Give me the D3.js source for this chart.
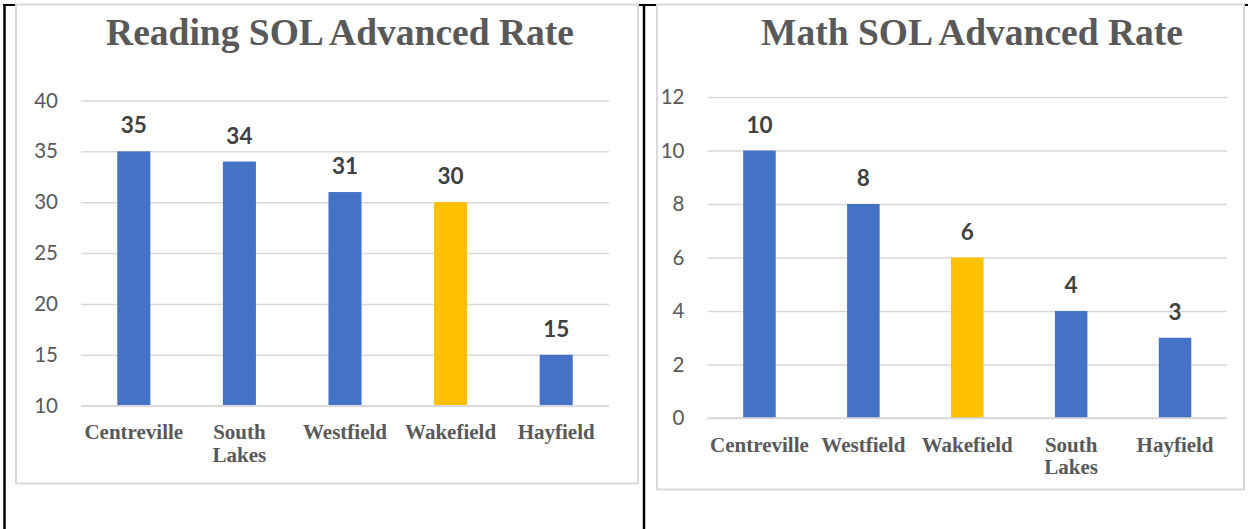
<!DOCTYPE html>
<html>
<head>
<meta charset="utf-8">
<script src="https://cdn.jsdelivr.net/npm/d3@7/dist/d3.min.js"></script>
<style>
  html, body { margin: 0; padding: 0; background: #ffffff; }
  svg { display: block; }
</style>
</head>
<body>
<svg id="chart" width="1248" height="529"></svg>
<script>
// ---- Data ----
const readingTitle = "Reading SOL Advanced Rate";
const readingSchools = ["Centreville", "South Lakes", "Westfield", "Wakefield", "Hayfield"];
const readingValues = [35, 34, 31, 30, 15];
const readingTicks = [10, 15, 20, 25, 30, 35, 40];

const mathTitle = "Math SOL Advanced Rate";
const mathSchools = ["Centreville", "Westfield", "Wakefield", "South Lakes", "Hayfield"];
const mathValues = [10, 8, 6, 4, 3];
const mathTicks = [0, 2, 4, 6, 8, 10, 12];

const highlightSchool = "Wakefield";

// ---- Styles ----
const BLUE = "#4472C4", GOLD = "#FFC000", GRID = "#d9d9d9";
const TEXT = "#595959", LABEL = "#404040";
const SANS = "Lato, 'Open Sans', sans-serif";
const SERIF = "'Liberation Serif', 'Times New Roman', serif";

const svg = d3.select("#chart");

// Table borders (black)
svg.append("line").attr("x1", 3).attr("x2", 1248).attr("y1", 5).attr("y2", 5)
  .attr("stroke", "#000").attr("stroke-width", 2);
svg.append("line").attr("x1", 4.5).attr("x2", 4.5).attr("y1", 4).attr("y2", 529)
  .attr("stroke", "#000").attr("stroke-width", 2.5);
svg.append("line").attr("x1", 644).attr("x2", 644).attr("y1", 4).attr("y2", 529)
  .attr("stroke", "#000").attr("stroke-width", 2.5);

function drawChart(cfg) {
  const g = svg.append("g");
  // chart box
  g.append("rect")
    .attr("x", cfg.box[0]).attr("y", cfg.box[1])
    .attr("width", cfg.box[2]).attr("height", cfg.box[3])
    .attr("fill", "#fff").attr("stroke", GRID).attr("stroke-width", 2);

  // title
  g.append("text")
    .attr("x", cfg.titleX).attr("y", 45)
    .attr("text-anchor", "middle")
    .attr("font-family", SERIF).attr("font-weight", "bold")
    .attr("font-size", 37.5).attr("fill", TEXT)
    .text(cfg.title);

  const x = d3.scaleBand()
    .domain(cfg.cats)
    .range(cfg.xRange)
    .paddingInner(0.687)
    .paddingOuter(0.3435);
  const y = d3.scaleLinear().domain(cfg.domain).range(cfg.yRange);

  // y axis with gridlines
  const yAxis = d3.axisLeft(y)
    .tickValues(cfg.ticks)
    .tickSize(-(cfg.xRange[1] - cfg.xRange[0]))
    .tickPadding(23);
  const ya = g.append("g")
    .attr("transform", `translate(${cfg.xRange[0]},0)`)
    .call(yAxis);
  ya.select(".domain").remove();
  ya.selectAll(".tick line").attr("stroke", GRID).attr("stroke-width", 1.5);
  ya.selectAll(".tick text")
    .attr("font-family", SANS).attr("font-size", 20.5).attr("fill", TEXT);

  // bars
  g.selectAll("rect.bar")
    .data(cfg.cats.map((c, i) => ({ c, v: cfg.vals[i] })))
    .join("rect")
    .attr("class", "bar")
    .attr("x", d => x(d.c))
    .attr("width", x.bandwidth())
    .attr("y", d => y(d.v))
    .attr("height", d => y(cfg.domain[0]) - y(d.v))
    .attr("fill", d => d.c === highlightSchool ? GOLD : BLUE);

  // value labels
  g.selectAll("text.val")
    .data(cfg.cats.map((c, i) => ({ c, v: cfg.vals[i] })))
    .join("text")
    .attr("class", "val")
    .attr("x", d => x(d.c) + x.bandwidth() / 2)
    .attr("y", d => y(d.v) - 18)
    .attr("text-anchor", "middle")
    .attr("font-family", SANS).attr("font-weight", "bold")
    .attr("font-size", 22.5).attr("fill", LABEL)
    .text(d => d.v);

  // x axis (category labels)
  const xAxis = d3.axisBottom(x).tickSize(0).tickFormat("");
  const xa = g.append("g")
    .attr("transform", `translate(0,${y(cfg.domain[0])})`)
    .call(xAxis);
  xa.select(".domain").remove();
  xa.append("line")
    .attr("x1", cfg.xRange[0]).attr("x2", cfg.xRange[1])
    .attr("stroke", GRID).attr("stroke-width", 1.5);
  xa.selectAll(".tick").each(function (d) {
    const t = d3.select(this).append("text")
      .attr("text-anchor", "middle")
      .attr("font-family", SERIF).attr("font-weight", "bold")
      .attr("font-size", 21).attr("fill", TEXT);
    const words = d.split(" ");
    const lines = words.length > 1 && d.length > 10 ? words : [d];
    lines.forEach((w, i) => {
      t.append("tspan").attr("x", 0).attr("y", 33.5 + i * 22.5).text(w);
    });
  });
}

drawChart({
  box: [16, 4.5, 622, 479],
  title: readingTitle, titleX: 340,
  cats: readingSchools, vals: readingValues, ticks: readingTicks,
  domain: [10, 40], xRange: [81, 609], yRange: [405.7, 100.5]
});

drawChart({
  box: [657, 4.5, 587, 485],
  title: mathTitle, titleX: 972,
  cats: mathSchools, vals: mathValues, ticks: mathTicks,
  domain: [0, 12], xRange: [707.5, 1227], yRange: [418, 97]
});
</script>
</body>
</html>
